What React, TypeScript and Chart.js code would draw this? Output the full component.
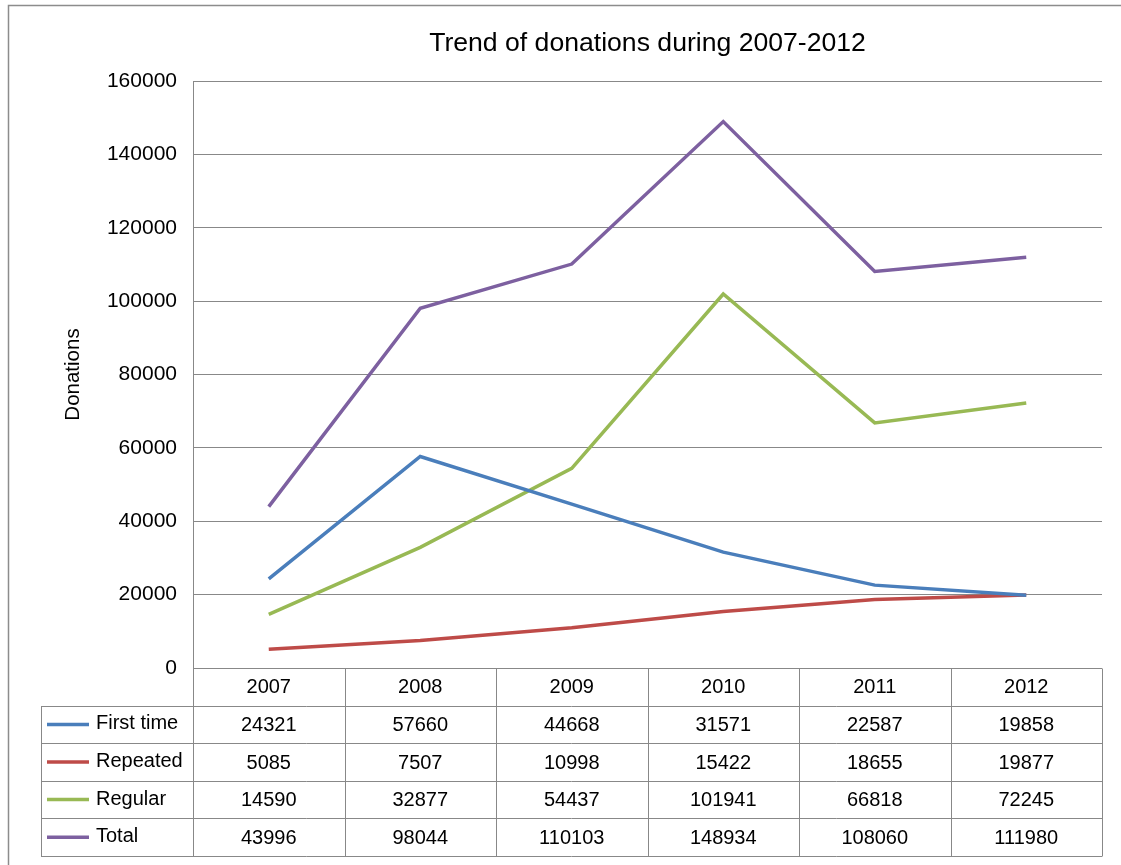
import React, { useEffect, useRef } from "react";
import { Chart, registerables } from "chart.js";

Chart.register(...registerables);

const years = ["2007", "2008", "2009", "2010", "2011", "2012"];
const seriesNames = ["First time", "Repeated", "Regular", "Total"];
const firstTime = [24321, 57660, 44668, 31571, 22587, 19858];
const repeated = [5085, 7507, 10998, 15422, 18655, 19877];
const regular = [14590, 32877, 54437, 101941, 66818, 72245];
const total = [43996, 98044, 110103, 148934, 108060, 111980];
const seriesColors = ["#4A7EBB", "#BE4B48", "#98B954", "#7D60A0"];
const yTicks = [0, 20000, 40000, 60000, 80000, 100000, 120000, 140000, 160000];

const FONT = "'Liberation Sans', Arial, sans-serif";
const W = 1121;
const H = 865;
const PLOT_LEFT = 193;
const PLOT_TOP = 81;
const PLOT_RIGHT = 1102;
const PLOT_BOTTOM = 668;
const TABLE_LEFT = 41;
const ROW_H = 37.6;
const GRID = "#888888";

const seriesData = [firstTime, repeated, regular, total];

const framePlugin = {
  id: "frame",
  beforeDraw(chart: any) {
    const ctx = chart.ctx;
    ctx.save();
    ctx.fillStyle = "#ffffff";
    ctx.fillRect(0, 0, chart.width, chart.height);
    ctx.strokeStyle = "#8c8c8c";
    ctx.lineWidth = 1.5;
    ctx.beginPath();
    ctx.moveTo(8.5, H);
    ctx.lineTo(8.5, 5.5);
    ctx.lineTo(W, 5.5);
    ctx.stroke();
    ctx.restore();
  },
};

const tablePlugin = {
  id: "dataTable",
  afterDraw(chart: any) {
    const ctx = chart.ctx;
    const xs = chart.scales.x;
    const area = chart.chartArea;
    const labels: string[] = chart.data.labels;
    const n = labels.length;
    const centers = labels.map((_, i) => xs.getPixelForValue(i));
    const bounds: number[] = [xs.left];
    for (let i = 1; i < n; i++) bounds.push((centers[i - 1] + centers[i]) / 2);
    bounds.push(xs.right);
    const top = area.bottom;
    const rows = chart.data.datasets.length;
    const tableBottom = top + ROW_H * (rows + 1);
    const crisp = (v: number) => Math.round(v) + 0.5;

    ctx.save();
    ctx.strokeStyle = GRID;
    ctx.lineWidth = 1;
    ctx.beginPath();
    for (let r = 1; r <= rows + 1; r++) {
      const y = crisp(top + ROW_H * r);
      ctx.moveTo(TABLE_LEFT, y);
      ctx.lineTo(bounds[n], y);
    }
    ctx.moveTo(crisp(TABLE_LEFT), crisp(top + ROW_H));
    ctx.lineTo(crisp(TABLE_LEFT), crisp(tableBottom));
    for (let i = 0; i <= n; i++) {
      const x = crisp(bounds[i]);
      ctx.moveTo(x, crisp(top));
      ctx.lineTo(x, crisp(tableBottom));
    }
    ctx.stroke();

    ctx.fillStyle = "#000000";
    ctx.font = `20px ${FONT}`;
    ctx.textBaseline = "middle";
    ctx.textAlign = "center";
    labels.forEach((lab, i) => {
      ctx.fillText(lab, centers[i], top + ROW_H / 2 + 1);
    });
    chart.data.datasets.forEach((ds: any, r: number) => {
      const cy = top + ROW_H * (r + 1) + ROW_H / 2 + 1;
      ctx.strokeStyle = ds.borderColor;
      ctx.lineWidth = 3.5;
      ctx.beginPath();
      ctx.moveTo(47, cy - 1);
      ctx.lineTo(89, cy - 1);
      ctx.stroke();
      ctx.textAlign = "left";
      ctx.fillText(ds.label, 96, cy - 1.5);
      ctx.textAlign = "center";
      ds.data.forEach((v: number, i: number) => {
        ctx.fillText(String(v), centers[i], cy);
      });
    });
    ctx.restore();
  },
};

export default function App() {
  const ref = useRef<HTMLCanvasElement | null>(null);

  useEffect(() => {
    if (!ref.current) return;
    Chart.defaults.font.family = FONT;
    const chart = new Chart(ref.current, {
      type: "line",
      data: {
        labels: years,
        datasets: seriesNames.map((name, i) => ({
          label: name,
          data: seriesData[i],
          borderColor: seriesColors[i],
          backgroundColor: seriesColors[i],
          borderWidth: 3.5,
          pointRadius: 0,
          tension: 0,
          fill: false,
        })),
      },
      options: {
        responsive: false,
        animation: false,
        devicePixelRatio: 1,
        layout: {
          padding: { top: 5, left: 0, right: W - PLOT_RIGHT, bottom: 0 },
        },
        plugins: {
          legend: { display: false },
          tooltip: { enabled: false },
          title: {
            display: true,
            text: "Trend of donations during 2007-2012",
            fullSize: false,
            color: "#000000",
            font: { size: 26.6, weight: "normal", family: FONT },
            padding: { top: 23, bottom: PLOT_TOP - 5 - 23 - 26.6 * 1.2 },
          },
        },
        scales: {
          x: {
            type: "category",
            offset: true,
            grid: { display: false, drawTicks: false },
            border: { display: false },
            ticks: { display: false },
            afterFit: (scale: any) => {
              scale.height = H - PLOT_BOTTOM;
            },
          },
          y: {
            min: 0,
            max: 160000,
            afterBuildTicks: (scale: any) => {
              scale.ticks = yTicks.map((v) => ({ value: v }));
            },
            grid: { color: GRID, lineWidth: 1, drawTicks: false },
            border: { display: true, color: GRID, width: 1 },
            ticks: {
              color: "#000000",
              padding: 16,
              font: { size: 21, family: FONT },
              callback: (v: any) => String(v),
            },
            title: {
              display: true,
              text: "Donations",
              color: "#000000",
              font: { size: 20.5, family: FONT },
              padding: { top: 61, bottom: 0 },
            },
            afterFit: (scale: any) => {
              scale.width = PLOT_LEFT;
            },
          },
        },
      },
      plugins: [framePlugin, tablePlugin],
    });
    return () => chart.destroy();
  }, []);

  return (
    <div style={{ position: "absolute", left: 0, top: 0, width: W, height: H, background: "#fff" }}>
      <canvas ref={ref} width={W} height={H} style={{ display: "block" }} />
    </div>
  );
}
